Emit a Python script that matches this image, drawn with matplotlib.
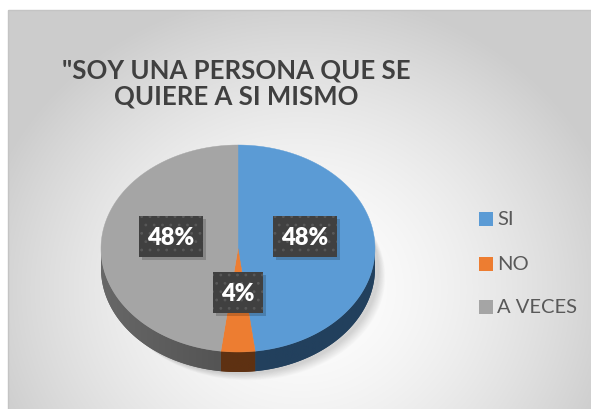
import numpy as np
import matplotlib
matplotlib.use('Agg')
import matplotlib.pyplot as plt
from matplotlib.patches import Polygon, Rectangle

# chart data
categories = ['SI', 'NO', 'A VECES']
values = [48, 4, 48]
colors = ['#5B9BD5', '#ED7D31', '#A5A5A5']
side_colors = ['#22405D', '#5E3112', '#5A5A5A']
title = '"SOY UNA PERSONA QUE SE\nQUIERE A SI MISMO'

plt.rcParams['font.family'] = ['Lato', 'DejaVu Sans']
plt.rcParams['hatch.color'] = '#585858'
plt.rcParams['hatch.linewidth'] = 0.8

W, H = 591, 410
fig = plt.figure(figsize=(W / 100, H / 100), dpi=100)
ax = fig.add_axes([0, 0, 1, 1])
ax.set_xlim(0, W)
ax.set_ylim(H, 0)
ax.axis('off')

# background with radial gradient inside the frame
x0, y0 = 8, 11
gx, gy = np.meshgrid(np.arange(x0, W), np.arange(y0, H))
r = np.sqrt(((gx - 300) / 330) ** 2 + ((gy - 290) / 300) ** 2)
v = 1.0 - 0.2 * np.clip(r, 0, 1) ** 1.6
ax.imshow(np.dstack([v, v, v]), extent=[x0, W, H, y0], aspect='auto', zorder=0)
ax.add_patch(Rectangle((x0, y0), W - x0 + 5, H - y0 + 5, fill=False,
                       edgecolor='#c4c4c4', lw=1, zorder=1))

# pie geometry (pixel space)
cx, cy, rx, ry, depth = 238, 249.5, 137, 103.5, 20


def pt(theta, dy=0.0):
    t = np.radians(theta)
    return cx + rx * np.sin(t), cy - ry * np.cos(t) + dy


total = float(sum(values))
bounds = np.concatenate([[0], np.cumsum(values) / total * 360])

# soft shadow
for k in range(10):
    verts = [(px + 4 + k * 0.7, py) for px, py in
             [pt(t, depth + 2 + k * 0.7) for t in np.linspace(0, 360, 200)]]
    ax.add_patch(Polygon(verts, closed=True, facecolor='#000000',
                         alpha=0.015, edgecolor='none', zorder=2))

# side walls (front half only), shaded with a horizontal gradient
for i in range(len(values)):
    a, b = max(bounds[i], 90), min(bounds[i + 1], 270)
    if a >= b:
        continue
    ts = np.linspace(a, b, 150)
    verts = [pt(t) for t in ts] + [pt(t, depth) for t in ts[::-1]]
    poly = Polygon(verts, closed=True, facecolor=side_colors[i],
                   edgecolor='none', zorder=3)
    ax.add_patch(poly)
    base = np.array(matplotlib.colors.to_rgb(side_colors[i]))
    xs = np.linspace(cx - rx, cx + rx, 300)
    if i == 2:
        shade = 1.15 - 0.25 * (xs - (cx - rx)) / rx
    else:
        shade = np.ones_like(xs)
    grad = np.clip(base[None, :] * shade[:, None], 0, 1)[None, :, :]
    im = ax.imshow(grad, extent=[cx - rx, cx + rx, cy + ry + depth + 2, cy - 5],
                   aspect='auto', zorder=3.5, interpolation='bilinear')
    im.set_clip_path(poly)

# top faces
for i in range(len(values)):
    ts = np.linspace(bounds[i], bounds[i + 1], 150)
    verts = [(cx, cy)] + [pt(t) for t in ts]
    ax.add_patch(Polygon(verts, closed=True, facecolor=colors[i],
                         edgecolor=colors[i], lw=0.3, zorder=4))

# data labels
label_pos = [(305, 237.5), (238, 293.5), (170.5, 237.5)]
for val, (lx, ly) in zip(values, label_pos):
    txt = f'{val}%'
    bw = 64 if len(txt) == 3 else 50
    bh = 41
    ax.add_patch(Rectangle((lx - bw / 2 + 3, ly - bh / 2 + 3), bw, bh,
                           facecolor='#000000', alpha=0.18, edgecolor='none', zorder=5))
    ax.add_patch(Rectangle((lx - bw / 2, ly - bh / 2), bw, bh,
                           facecolor='#404040', edgecolor='#585858', lw=0,
                           hatch='..', zorder=6))
    ax.text(lx, ly + 1, txt, color='white', fontsize=17, fontweight='heavy',
            ha='center', va='center', zorder=7)

# title
ax.text(236, 83, title, ha='center', va='center', fontsize=18.5,
        fontweight='bold', color='#404040', linespacing=1.1, zorder=7)

# legend
leg_y = [220, 265, 308]
for cat, col, ly in zip(categories, colors, leg_y):
    ax.add_patch(Rectangle((479, ly - 7), 14, 14, facecolor=col,
                           edgecolor='none', zorder=7))
    ax.text(497, ly, cat, ha='left', va='center', fontsize=14.5,
            color='#595959', zorder=7)

fig.savefig('out.png', dpi=100)
